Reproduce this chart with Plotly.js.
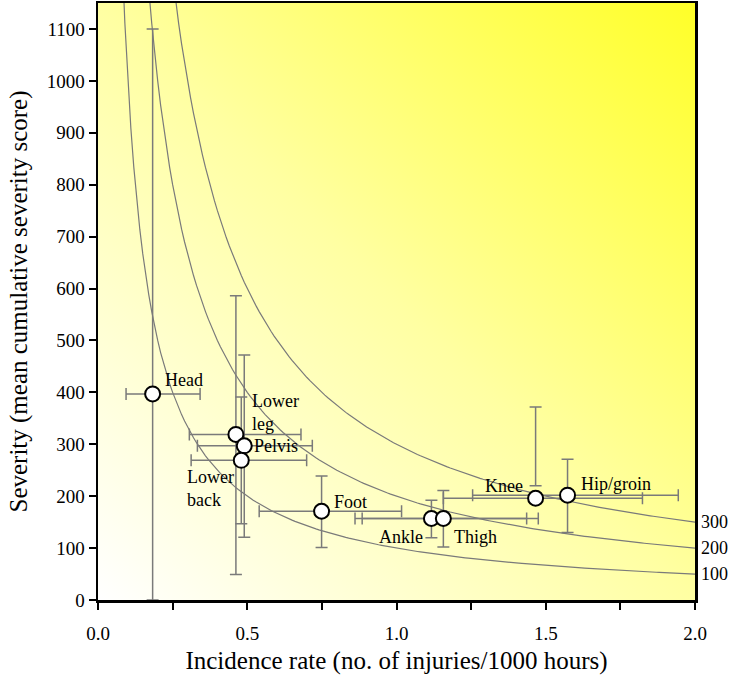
<!DOCTYPE html>
<html>
<head>
<meta charset="utf-8">
<script src="https://cdn.plot.ly/plotly-3.0.1.min.js"></script>
<style>
  html, body { margin: 0; padding: 0; background: #ffffff; }
  #plot { width: 729px; height: 677px; }
</style>
</head>
<body>
<div id="plot"></div>
<script>
// injury burden data
const regions = ['Head', 'Lower<br>leg', 'Pelvis', 'Lower<br>back', 'Foot', 'Ankle', 'Thigh', 'Knee', 'Hip/groin'];
const incidence = [0.183, 0.462, 0.490, 0.480, 0.749, 1.117, 1.157, 1.466, 1.573];
const incidencePlus = [0.159, 0.218, 0.228, 0.219, 0.268, 0.319, 0.318, 0.358, 0.371];
const incidenceMinus = [0.089, 0.156, 0.157, 0.168, 0.209, 0.256, 0.272, 0.309, 0.318];
const severity = [397, 319, 297, 269, 171, 157, 157, 196, 202];
const severityPlus = [703, 267, 175, 122, 68, 35, 54, 176, 69];
const severityMinus = [397, 270, 176, 122, 70, 37, 55, -24, 72];

// iso-burden curves: severity x incidence = constant
const burdenLevels = [100, 200, 300];
const curveX = [];
for (let x = 0.06; x <= 2.0001; x += 0.01) curveX.push(+x.toFixed(2));

// label placement (pixel offsets from each point)
const labelPos = [
    {anchor: 'left', dx: 10, dy: 14},
    {anchor: 'left', dx: 14, dy: 22},
    {anchor: 'left', dx: 8, dy: 0},
    {anchor: 'left', dx: -56, dy: -28},
    {anchor: 'left', dx: 10, dy: 9},
    {anchor: 'right', dx: -6, dy: -18},
    {anchor: 'left', dx: 9, dy: -18},
    {anchor: 'right', dx: -11, dy: 12},
    {anchor: 'left', dx: 11, dy: 11}
];

const serif = '"Liberation Serif", "Times New Roman", serif';
const grey = '#7a7a7a';

const traces = burdenLevels.map(k => ({
    x: curveX,
    y: curveX.map(x => k / x),
    mode: 'lines',
    type: 'scatter',
    line: {color: grey, width: 1.2},
    hoverinfo: 'skip',
    showlegend: false
}));

traces.push({
    x: incidence,
    y: severity,
    mode: 'markers',
    type: 'scatter',
    marker: {size: 15, color: '#ffffff', line: {color: '#000000', width: 2}},
    error_x: {type: 'data', symmetric: false, array: incidencePlus, arrayminus: incidenceMinus,
              color: grey, thickness: 1.5, width: 6},
    error_y: {type: 'data', symmetric: false, array: severityPlus, arrayminus: severityMinus,
              color: grey, thickness: 1.5, width: 6},
    text: regions,
    showlegend: false
});

const annotations = regions.map((name, i) => ({
    x: incidence[i], y: severity[i], xref: 'x', yref: 'y',
    text: name, showarrow: false, align: 'left',
    xanchor: labelPos[i].anchor, yanchor: 'middle',
    xshift: labelPos[i].dx, yshift: labelPos[i].dy,
    font: {family: serif, size: 18, color: '#000000'}
}));

burdenLevels.forEach(k => annotations.push({
    x: 2.0, y: k / 2.0, xref: 'x', yref: 'y',
    text: String(k), showarrow: false,
    xanchor: 'left', yanchor: 'middle', xshift: 4,
    font: {family: serif, size: 18, color: '#000000'}
}));

const bg = "<svg xmlns='http://www.w3.org/2000/svg' width='100' height='100' preserveAspectRatio='none'>" +
    "<defs><linearGradient id='g' x1='0' y1='1' x2='1' y2='0'>" +
    "<stop offset='0' stop-color='#ffffff'/><stop offset='0.5' stop-color='#ffffa2'/>" +
    "<stop offset='1' stop-color='#ffff28'/>" +
    "</linearGradient></defs><rect width='100' height='100' fill='url(#g)'/></svg>";

const layout = {
    width: 729,
    height: 677,
    margin: {l: 98, r: 34, t: 3, b: 77},
    paper_bgcolor: '#ffffff',
    plot_bgcolor: 'rgba(0,0,0,0)',
    font: {family: serif, color: '#000000'},
    images: [{
        source: 'data:image/svg+xml;charset=utf-8,' + encodeURIComponent(bg),
        xref: 'paper', yref: 'paper', x: 0, y: 1, sizex: 1, sizey: 1,
        sizing: 'stretch', layer: 'below'
    }],
    xaxis: {
        range: [0, 2.0],
        dtick: 0.5,
        tickformat: '.1f',
        ticks: 'outside', ticklen: 7, tickwidth: 2, tickcolor: '#000000',
        minor: {dtick: 0.25, ticks: 'outside', ticklen: 7, tickwidth: 2, tickcolor: '#000000'},
        ticklabelstandoff: 8,
        tickfont: {family: serif, size: 19},
        showline: true, mirror: true, linewidth: 2.5, linecolor: '#000000',
        showgrid: false, zeroline: false,
        title: {text: 'Incidence rate (no. of injuries/1000 hours)', font: {family: serif, size: 25}, standoff: 8}
    },
    yaxis: {
        range: [0, 1150],
        dtick: 100,
        ticks: 'outside', ticklen: 7, tickwidth: 2, tickcolor: '#000000',
        tickfont: {family: serif, size: 19},
        showline: true, mirror: true, linewidth: 2.5, linecolor: '#000000',
        showgrid: false, zeroline: false,
        title: {text: 'Severity (mean cumulative severity score)', font: {family: serif, size: 25}, standoff: 12}
    },
    annotations: annotations,
    showlegend: false
};

Plotly.newPlot('plot', traces, layout, {displayModeBar: false, staticPlot: true});
</script>
</body>
</html>
